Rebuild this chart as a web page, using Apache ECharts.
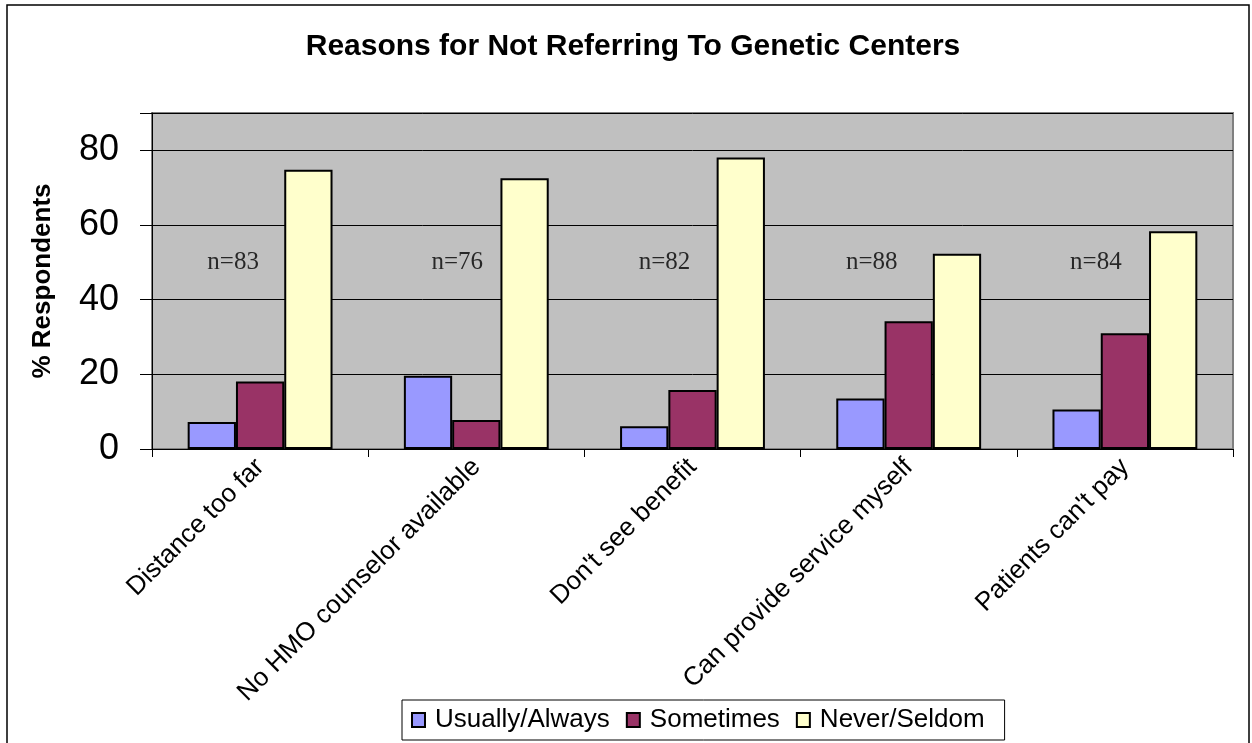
<!DOCTYPE html>
<html><head><meta charset="utf-8">
<script src="https://cdn.jsdelivr.net/npm/echarts@6/dist/echarts.min.js"></script>
<style>html,body{margin:0;padding:0;background:#fff}#c{width:1252px;height:743px}</style>
</head><body><div id="c"></div>
<script>
const categories = ["Distance too far","No HMO counselor available","Don't see benefit","Can provide service myself","Patients can't pay"];
const usuallyAlways = [7.2, 19.6, 6.1, 13.5, 10.6];
const sometimes = [18.1, 7.8, 15.8, 34.2, 31.0];
const neverSeldom = [74.8, 72.5, 78.1, 52.3, 58.3];
const nLabels = ["n=83","n=76","n=82","n=88","n=84"];
const nLabelY = 50;
const yTicks = [0,20,40,60,80];

const chart = echarts.init(document.getElementById('c'), null, {renderer:'canvas'});
const barBorder = {borderColor:'#000', borderWidth:2};
const sans = 'Liberation Sans, Arial, sans-serif';
const labelDx = [-27,-19,-28,-37,-29];
chart.setOption({
  animation:false,
  backgroundColor:'#fff',
  textStyle:{fontFamily:sans},
  title:{text:'Reasons for Not Referring To Genetic Centers', left:628, textAlign:'center', top:27,
    textStyle:{fontSize:30, fontWeight:'bold', color:'#000', fontFamily:sans}},
  graphic:[{type:'rect', shape:{x:7,y:5,width:1242,height:745}, style:{fill:'none', stroke:'#000', lineWidth:1.5}, silent:true}],
  legend:{left:402, top:700, itemWidth:13, itemHeight:14, itemGap:16,
    borderColor:'#000', borderWidth:1, padding:[7,20,7,9],
    itemStyle:{borderColor:'#000', borderWidth:2},
    textStyle:{fontSize:26, color:'#000', fontFamily:sans, padding:[0,0,0,5]},
    data:[{name:'Usually/Always', icon:'rect'},{name:'Sometimes', icon:'rect'},{name:'Never/Seldom', icon:'rect'}]},
  grid:{left:152, top:113, width:1081, height:336, show:true, backgroundColor:'#C0C0C0', borderColor:'#808080', borderWidth:2},
  xAxis:{type:'category', data:categories,
    axisLine:{lineStyle:{color:'#000', width:1}},
    axisTick:{show:true, length:8, lineStyle:{color:'#000'}},
    axisLabel:{rotate:45, fontSize:26, color:'#000', margin:14, interval:0}},
  yAxis:{type:'value', min:0, max:90, interval:20,
    name:'% Respondents', nameLocation:'middle', nameGap:96, nameRotate:90,
    nameTextStyle:{fontSize:26, fontWeight:'bold', color:'#000'},
    axisLine:{show:true, lineStyle:{color:'#000'}},
    axisTick:{show:true, length:12, lineStyle:{color:'#000'}},
    axisLabel:{fontSize:36, color:'#000', margin:33, formatter:v=>yTicks.includes(v)?String(v):''},
    splitLine:{show:true, lineStyle:{color:'#000', width:1}}},
  series:[
    {name:'Usually/Always', type:'bar', data:usuallyAlways, barGap:'0%', barCategoryGap:'33%',
      itemStyle:Object.assign({color:'#9999FF'}, barBorder)},
    {name:'Sometimes', type:'bar', data:sometimes, barGap:'0%', barCategoryGap:'33%',
      itemStyle:Object.assign({color:'#993366'}, barBorder)},
    {name:'Never/Seldom', type:'bar', data:neverSeldom, barGap:'0%', barCategoryGap:'33%',
      itemStyle:Object.assign({color:'#FFFFCC'}, barBorder)},
    {name:'n', type:'scatter', symbolSize:0, silent:true, z:5,
      data:categories.map((c,i)=>({value:[c, nLabelY], label:{offset:[labelDx[i], 0]}})),
      label:{show:true, position:'inside', color:'#000', fontSize:25,
        fontFamily:'Liberation Serif, Times New Roman, serif',
        formatter:p=>nLabels[p.dataIndex]}}
  ]
});
</script></body></html>
